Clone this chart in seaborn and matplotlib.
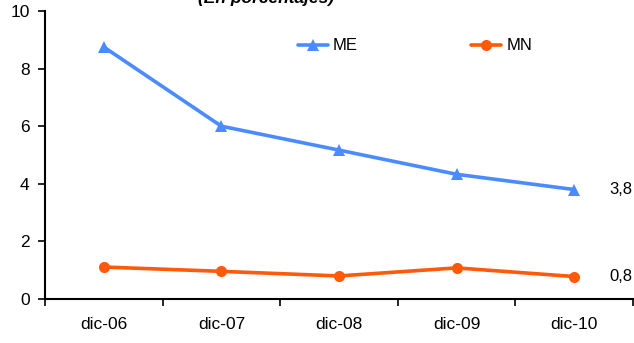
import matplotlib

matplotlib.use("Agg")

import matplotlib.pyplot as plt
import pandas as pd
import seaborn as sns

PERIODS = ["dic-06", "dic-07", "dic-08", "dic-09", "dic-10"]
ME_VALUES = [8.75, 6.0, 5.17, 4.33, 3.8]
MN_VALUES = [1.11, 0.96, 0.8, 1.08, 0.78]
END_LABELS = ["3,8", "0,8"]
SERIES = ["ME", "MN"]
COLORS = {"ME": "#4A8CFF", "MN": "#FF5A0A"}
MARKERS = {"ME": "^", "MN": "o"}

sns.set_theme(style="white")
plt.rcParams["font.family"] = ["Liberation Sans", "DejaVu Sans"]
plt.rcParams["text.color"] = "black"

rows = []
for name, values in zip(SERIES, [ME_VALUES, MN_VALUES]):
    for i, (period, value) in enumerate(zip(PERIODS, values)):
        rows.append({"pos": i, "period": period, "value": value, "serie": name})
data = pd.DataFrame(rows)

fig = plt.figure(figsize=(6.34, 3.43), dpi=100)
ax = fig.add_axes([45 / 634, 1 - 299 / 343, 588 / 634, 288 / 343])

sns.lineplot(
    data=data, x="pos", y="value", hue="serie", style="serie",
    palette=COLORS, markers=MARKERS, dashes=False, linewidth=2.6,
    markersize=8, markeredgewidth=0, ax=ax,
)

ax.set_xlim(-0.5, len(PERIODS) - 0.5)
ax.set_ylim(0, 10)
ax.set_yticks(range(0, 11, 2))
ax.set_xticks(range(len(PERIODS)))
ax.set_xticklabels(PERIODS)
ax.set_xticks([i - 0.5 for i in range(len(PERIODS) + 1)], minor=True)
ax.tick_params(axis="x", which="major", length=0, pad=13, labelsize=12.5, colors="black")
ax.tick_params(axis="x", which="minor", length=5, width=1.2, direction="out", bottom=True, color="black")
ax.tick_params(axis="y", length=5, width=1.2, direction="out", left=True, labelsize=12.5, pad=6, colors="black")
ax.set_xlabel("")
ax.set_ylabel("")
sns.despine(ax=ax)
for side in ["left", "bottom"]:
    ax.spines[side].set_color("black")
    ax.spines[side].set_linewidth(1.5)

for label, values in zip(END_LABELS, [ME_VALUES, MN_VALUES]):
    ax.annotate(label, (len(PERIODS) - 1, values[-1]), xytext=(25, 0),
                textcoords="offset points", va="center", ha="left", fontsize=12,
                color="black", annotation_clip=False)

handles, labels = ax.get_legend_handles_labels()
ax.legend(handles, labels, ncol=2, frameon=False, fontsize=12,
          loc="center", bbox_to_anchor=(415 / 634, 1 - 46 / 343),
          bbox_transform=fig.transFigure, handlelength=1.8, handletextpad=0.3,
          columnspacing=6.8)

fig.text(266 / 634, 1 - 3 / 343, "(En porcentajes)", ha="center", va="baseline",
         fontsize=12.5, fontweight="bold", fontstyle="italic")

fig.savefig("out.png", dpi=100)
